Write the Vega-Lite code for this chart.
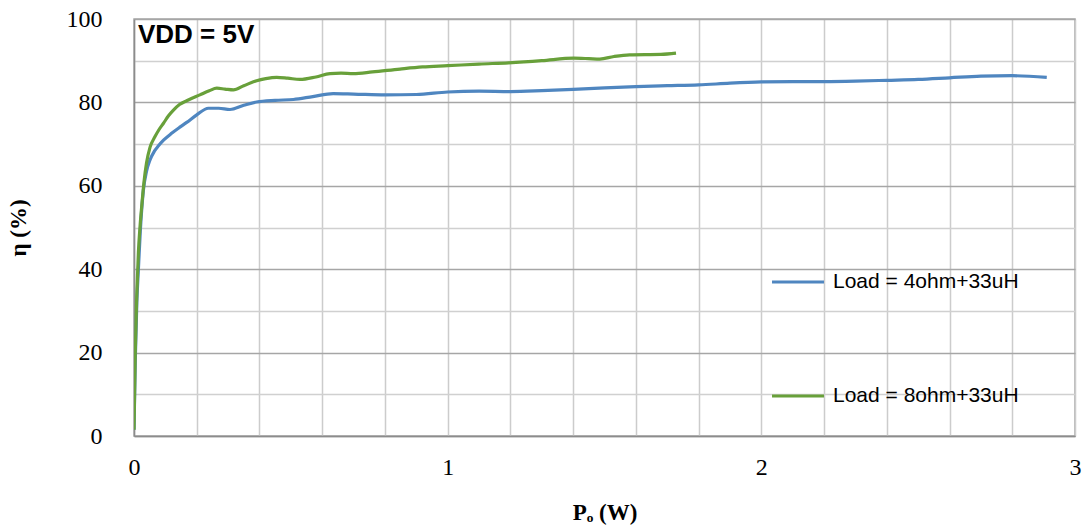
{
  "$schema": "https://vega.github.io/schema/vega-lite/v6.json",
  "width": 941,
  "height": 417,
  "autosize": {"type": "none"},
  "padding": {"left": 134, "top": 19, "right": 8, "bottom": 91},
  "background": "white",
  "config": {
    "view": {"stroke": "#a6a6a6", "strokeWidth": 1.5},
    "font": "Liberation Serif"
  },
  "datasets": {
    "curves": [
      {"p": 0, "eta": 1.5, "series": "Load = 4ohm+33uH"},
      {"p": 0.004, "eta": 18, "series": "Load = 4ohm+33uH"},
      {"p": 0.009, "eta": 32, "series": "Load = 4ohm+33uH"},
      {"p": 0.014, "eta": 40, "series": "Load = 4ohm+33uH"},
      {"p": 0.02, "eta": 49, "series": "Load = 4ohm+33uH"},
      {"p": 0.03, "eta": 59, "series": "Load = 4ohm+33uH"},
      {"p": 0.04, "eta": 63.5, "series": "Load = 4ohm+33uH"},
      {"p": 0.051, "eta": 66.2, "series": "Load = 4ohm+33uH"},
      {"p": 0.065, "eta": 68.3, "series": "Load = 4ohm+33uH"},
      {"p": 0.078, "eta": 69.6, "series": "Load = 4ohm+33uH"},
      {"p": 0.095, "eta": 71, "series": "Load = 4ohm+33uH"},
      {"p": 0.12, "eta": 72.6, "series": "Load = 4ohm+33uH"},
      {"p": 0.145, "eta": 74, "series": "Load = 4ohm+33uH"},
      {"p": 0.168, "eta": 75.2, "series": "Load = 4ohm+33uH"},
      {"p": 0.2, "eta": 77, "series": "Load = 4ohm+33uH"},
      {"p": 0.237, "eta": 78.6, "series": "Load = 4ohm+33uH"},
      {"p": 0.27, "eta": 78.6, "series": "Load = 4ohm+33uH"},
      {"p": 0.306, "eta": 78.3, "series": "Load = 4ohm+33uH"},
      {"p": 0.35, "eta": 79.3, "series": "Load = 4ohm+33uH"},
      {"p": 0.391, "eta": 80.1, "series": "Load = 4ohm+33uH"},
      {"p": 0.45, "eta": 80.5, "series": "Load = 4ohm+33uH"},
      {"p": 0.508, "eta": 80.7, "series": "Load = 4ohm+33uH"},
      {"p": 0.57, "eta": 81.4, "series": "Load = 4ohm+33uH"},
      {"p": 0.635, "eta": 82.1, "series": "Load = 4ohm+33uH"},
      {"p": 0.7, "eta": 82, "series": "Load = 4ohm+33uH"},
      {"p": 0.8, "eta": 81.8, "series": "Load = 4ohm+33uH"},
      {"p": 0.9, "eta": 81.9, "series": "Load = 4ohm+33uH"},
      {"p": 1.0, "eta": 82.5, "series": "Load = 4ohm+33uH"},
      {"p": 1.1, "eta": 82.7, "series": "Load = 4ohm+33uH"},
      {"p": 1.2, "eta": 82.6, "series": "Load = 4ohm+33uH"},
      {"p": 1.3, "eta": 82.8, "series": "Load = 4ohm+33uH"},
      {"p": 1.4, "eta": 83.1, "series": "Load = 4ohm+33uH"},
      {"p": 1.5, "eta": 83.5, "series": "Load = 4ohm+33uH"},
      {"p": 1.6, "eta": 83.8, "series": "Load = 4ohm+33uH"},
      {"p": 1.7, "eta": 84, "series": "Load = 4ohm+33uH"},
      {"p": 1.8, "eta": 84.2, "series": "Load = 4ohm+33uH"},
      {"p": 1.9, "eta": 84.6, "series": "Load = 4ohm+33uH"},
      {"p": 2.0, "eta": 84.9, "series": "Load = 4ohm+33uH"},
      {"p": 2.1, "eta": 85, "series": "Load = 4ohm+33uH"},
      {"p": 2.2, "eta": 85, "series": "Load = 4ohm+33uH"},
      {"p": 2.3, "eta": 85.1, "series": "Load = 4ohm+33uH"},
      {"p": 2.4, "eta": 85.3, "series": "Load = 4ohm+33uH"},
      {"p": 2.5, "eta": 85.5, "series": "Load = 4ohm+33uH"},
      {"p": 2.6, "eta": 85.9, "series": "Load = 4ohm+33uH"},
      {"p": 2.7, "eta": 86.3, "series": "Load = 4ohm+33uH"},
      {"p": 2.8, "eta": 86.4, "series": "Load = 4ohm+33uH"},
      {"p": 2.91, "eta": 86.0, "series": "Load = 4ohm+33uH"},
      {"p": 0, "eta": 1.5, "series": "Load = 8ohm+33uH"},
      {"p": 0.004, "eta": 20, "series": "Load = 8ohm+33uH"},
      {"p": 0.0085, "eta": 33, "series": "Load = 8ohm+33uH"},
      {"p": 0.014, "eta": 44, "series": "Load = 8ohm+33uH"},
      {"p": 0.019, "eta": 50, "series": "Load = 8ohm+33uH"},
      {"p": 0.0245, "eta": 55, "series": "Load = 8ohm+33uH"},
      {"p": 0.032, "eta": 61, "series": "Load = 8ohm+33uH"},
      {"p": 0.04, "eta": 65.5, "series": "Load = 8ohm+33uH"},
      {"p": 0.051, "eta": 69.2, "series": "Load = 8ohm+33uH"},
      {"p": 0.067, "eta": 71.8, "series": "Load = 8ohm+33uH"},
      {"p": 0.08, "eta": 73.5, "series": "Load = 8ohm+33uH"},
      {"p": 0.094, "eta": 75, "series": "Load = 8ohm+33uH"},
      {"p": 0.11, "eta": 76.8, "series": "Load = 8ohm+33uH"},
      {"p": 0.125, "eta": 78.1, "series": "Load = 8ohm+33uH"},
      {"p": 0.145, "eta": 79.5, "series": "Load = 8ohm+33uH"},
      {"p": 0.168, "eta": 80.4, "series": "Load = 8ohm+33uH"},
      {"p": 0.21, "eta": 81.8, "series": "Load = 8ohm+33uH"},
      {"p": 0.24, "eta": 82.8, "series": "Load = 8ohm+33uH"},
      {"p": 0.264, "eta": 83.4, "series": "Load = 8ohm+33uH"},
      {"p": 0.29, "eta": 83.2, "series": "Load = 8ohm+33uH"},
      {"p": 0.317, "eta": 83, "series": "Load = 8ohm+33uH"},
      {"p": 0.35, "eta": 84, "series": "Load = 8ohm+33uH"},
      {"p": 0.391, "eta": 85.2, "series": "Load = 8ohm+33uH"},
      {"p": 0.42, "eta": 85.7, "series": "Load = 8ohm+33uH"},
      {"p": 0.455, "eta": 86.0, "series": "Load = 8ohm+33uH"},
      {"p": 0.49, "eta": 85.8, "series": "Load = 8ohm+33uH"},
      {"p": 0.529, "eta": 85.5, "series": "Load = 8ohm+33uH"},
      {"p": 0.58, "eta": 86.1, "series": "Load = 8ohm+33uH"},
      {"p": 0.625, "eta": 86.9, "series": "Load = 8ohm+33uH"},
      {"p": 0.66, "eta": 87, "series": "Load = 8ohm+33uH"},
      {"p": 0.699, "eta": 86.9, "series": "Load = 8ohm+33uH"},
      {"p": 0.76, "eta": 87.3, "series": "Load = 8ohm+33uH"},
      {"p": 0.848, "eta": 88, "series": "Load = 8ohm+33uH"},
      {"p": 0.92, "eta": 88.5, "series": "Load = 8ohm+33uH"},
      {"p": 1.0, "eta": 88.8, "series": "Load = 8ohm+33uH"},
      {"p": 1.1, "eta": 89.2, "series": "Load = 8ohm+33uH"},
      {"p": 1.194, "eta": 89.5, "series": "Load = 8ohm+33uH"},
      {"p": 1.3, "eta": 90, "series": "Load = 8ohm+33uH"},
      {"p": 1.402, "eta": 90.6, "series": "Load = 8ohm+33uH"},
      {"p": 1.45, "eta": 90.5, "series": "Load = 8ohm+33uH"},
      {"p": 1.485, "eta": 90.4, "series": "Load = 8ohm+33uH"},
      {"p": 1.53, "eta": 91, "series": "Load = 8ohm+33uH"},
      {"p": 1.58, "eta": 91.4, "series": "Load = 8ohm+33uH"},
      {"p": 1.68, "eta": 91.5, "series": "Load = 8ohm+33uH"},
      {"p": 1.728, "eta": 91.8, "series": "Load = 8ohm+33uH"}
    ],
    "note": [{"label": "VDD = 5V"}]
  },
  "layer": [
    {
      "data": {"name": "curves"},
      "mark": {"type": "line", "interpolate": "monotone", "strokeWidth": 3.2, "clip": true},
      "encoding": {
        "x": {
          "field": "p", "type": "quantitative",
          "scale": {"domain": [0, 3], "nice": false, "zero": false},
          "axis": {
            "values": [0, 0.2, 0.4, 0.6, 0.8, 1, 1.2, 1.4, 1.6, 1.8, 2, 2.2, 2.4, 2.6, 2.8, 3],
            "labelExpr": "abs(datum.value - round(datum.value)) < 0.001 ? format(datum.value, 'd') : ''",
            "title": "Pₒ (W)",
            "titleFont": "Liberation Serif", "titleFontSize": 23, "titleFontWeight": "bold", "titleColor": "black",
            "titlePadding": 22,
            "labelFont": "Liberation Serif", "labelFontSize": 24, "labelColor": "black", "labelPadding": 19,
            "labelFlush": false,
            "ticks": false,
            "domainColor": "#8c8c8c", "domainWidth": 1.5,
            "grid": true, "gridColor": "#cccccc", "gridWidth": 1.5
          }
        },
        "y": {
          "field": "eta", "type": "quantitative",
          "scale": {"domain": [0, 100], "nice": false},
          "axis": {
            "values": [0, 10, 20, 30, 40, 50, 60, 70, 80, 90, 100],
            "labelExpr": "datum.value % 20 === 0 ? datum.label : ''",
            "title": "η (%)",
            "titleFont": "Liberation Serif", "titleFontSize": 23, "titleFontWeight": "bold", "titleColor": "black",
            "titlePadding": 36,
            "labelFont": "Liberation Serif", "labelFontSize": 24, "labelColor": "black", "labelPadding": 32,
            "ticks": false,
            "domainColor": "#8c8c8c", "domainWidth": 1.5,
            "grid": true,
            "gridColor": {"condition": {"test": "datum.value % 20 === 0", "value": "#a6a6a6"}, "value": "#d0d0d0"},
            "gridWidth": 1.5
          }
        },
        "color": {
          "field": "series", "type": "nominal",
          "scale": {"domain": ["Load = 4ohm+33uH", "Load = 8ohm+33uH"], "range": ["#4f86c0", "#68a03a"]},
          "legend": {
            "title": null,
            "orient": "none",
            "legendX": 636,
            "legendY": 235,
            "padding": 0,
            "symbolType": "stroke",
            "symbolSize": 2700,
            "symbolStrokeWidth": 3.2,
            "labelOffset": 7,
            "rowPadding": 76,
            "labelFont": "Liberation Sans",
            "labelFontSize": 21,
            "labelColor": "black",
            "labelLimit": 400
          }
        }
      }
    },
    {
      "data": {"name": "note"},
      "mark": {"type": "text", "align": "left", "baseline": "top", "dx": 4, "dy": 3, "font": "Liberation Sans", "fontSize": 26, "fontWeight": "bold", "color": "black"},
      "encoding": {
        "x": {"datum": 0, "type": "quantitative"},
        "y": {"datum": 100, "type": "quantitative"},
        "text": {"field": "label", "type": "nominal"}
      }
    }
  ]
}
